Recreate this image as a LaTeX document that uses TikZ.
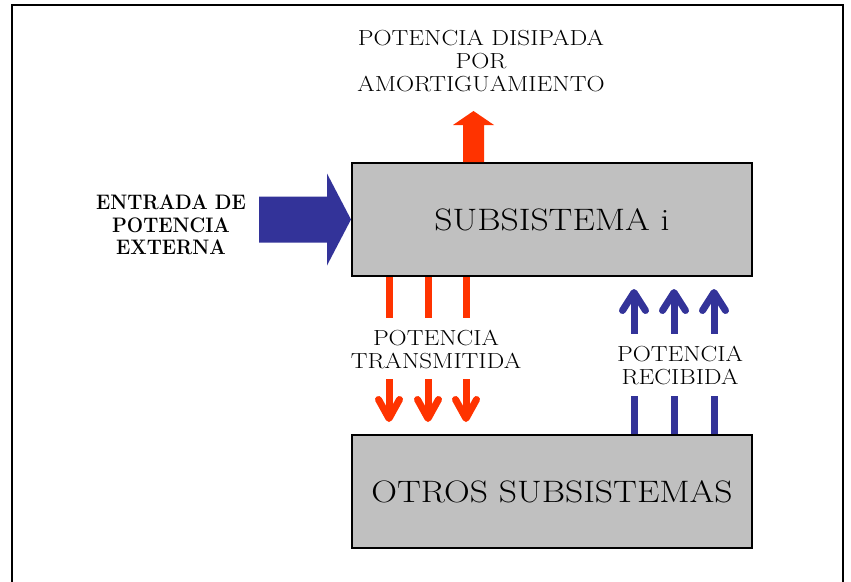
\documentclass[tikz,border=0pt]{standalone}
\usepackage{fontspec}
\setmainfont{Latin Modern Roman}[FakeStretch=1.15]
\newfontfamily\plainlm{Latin Modern Roman}[FakeStretch=0.92]
\usetikzlibrary{calc}
\definecolor{boxgray}{RGB}{192,192,192}
\definecolor{pred}{RGB}{255,51,0}
\definecolor{pblue}{RGB}{51,51,153}
\begin{document}
\begin{tikzpicture}[x=1pt,y=-1pt,
 box/.style={draw=black,line width=2pt,fill=boxgray,minimum width=400pt,minimum height=113pt,inner sep=0pt,font=\fontsize{31}{36}\selectfont},
 lbl/.style={align=center,inner sep=0pt,font=\fontsize{21.8}{23}\selectfont},
 blbl/.style={align=center,inner sep=0pt,font=\plainlm\bfseries\fontsize{21}{22.5}\selectfont},
 redline/.style={draw=pred,line width=7pt},
 blueline/.style={draw=pblue,line width=7pt},
 chev/.style={line width=7pt,line cap=round,line join=round}]
\useasboundingbox (0,0) rectangle (851,581);
\draw[line width=1.5pt] (12,600) -- (12,5) -- (843,5) -- (843,600);

\node[box] (sub) at (552,219.5) {SUBSISTEMA i};
\node[box] (otros) at (552,491.5) {OTROS SUBSISTEMAS};
\node[lbl] (dis) at (481,61) {POTENCIA DISIPADA\\POR\\AMORTIGUAMIENTO};
\node[blbl] (ent) at (171,225) {ENTRADA DE\\POTENCIA\\EXTERNA};
\node[lbl] (trans) at (436,349.5) {POTENCIA\\TRANSMITIDA};
\node[lbl] (rec) at (680,365) {POTENCIA\\RECIBIDA};

% dissipated power arrow
\coordinate (dupB) at ($(sub.north)+(-78.5,0)$);
\fill[pred] (dupB) ++(-10.5,0) -- ++(0,-37) -- ++(-10,0) -- ++(20.5,-14) -- ++(20.5,14) -- ++(-10,0) -- ++(0,37) -- cycle;

% external input arrow
\fill[pblue] (sub.west) -- ++(-24,-46) -- ++(0,23) -- ++(-68,0) -- ++(0,46) -- ++(68,0) -- ++(0,23) -- cycle;

% transmitted power
\foreach \dx in {38,77,115}{
  \draw[redline] ($(sub.south west)+(\dx,0)$) -- ++(0,41);
  \draw[redline] ($(otros.north west)+(\dx,-55)$) -- ++(0,37);
  \draw[pred,chev] ($(otros.north west)+(\dx-10.5,-34.5)$) -- ($(otros.north west)+(\dx,-15.5)$) -- ($(otros.north west)+(\dx+10.5,-34.5)$);
}

% received power
\foreach \dx in {-119,-79,-39}{
  \draw[blueline] ($(sub.south east)+(\dx,18)$) -- ++(0,39);
  \draw[pblue,chev] ($(sub.south east)+(\dx-11.5,33.5)$) -- ($(sub.south east)+(\dx,15.5)$) -- ($(sub.south east)+(\dx+11.5,33.5)$);
  \draw[blueline] ($(otros.north east)+(\dx,0)$) -- ++(0,-38);
}
\end{tikzpicture}
\end{document}
